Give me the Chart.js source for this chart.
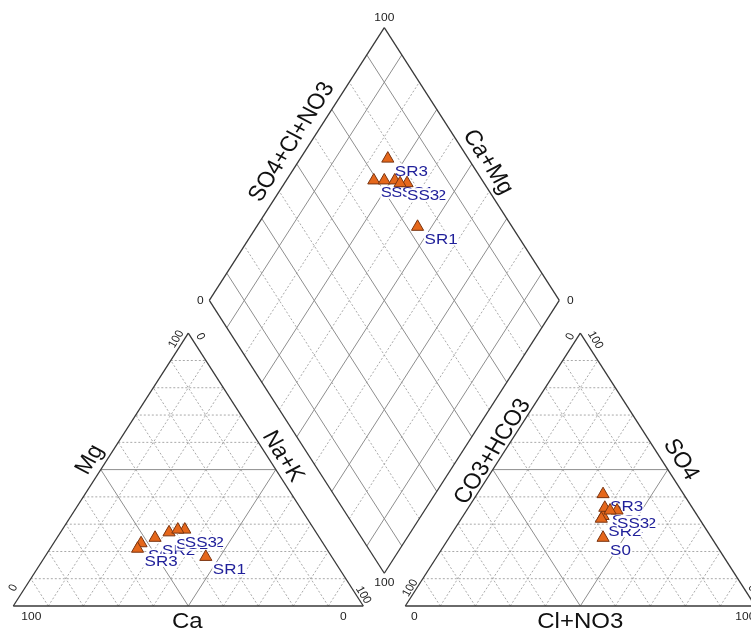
<!DOCTYPE html>
<html>
<head>
<meta charset="utf-8">
<title>Piper diagram</title>
<script src="https://cdn.jsdelivr.net/npm/chart.js@4.4.1/dist/chart.umd.min.js"></script>
<style>
  html, body { margin: 0; padding: 0; background: #ffffff; }
  canvas { display: block; }
</style>
</head>
<body>
<canvas id="piper" width="751" height="632"></canvas>
<script>
// ---- Sample composition, % of total meq/L ----
const samples = ["S0", "SR1", "SR2", "SR3", "SS1", "SS2", "SS3"];
const caPct   = [52, 36, 47, 54, 42, 37, 39];
const mgPct   = [23, 18, 25, 21, 27, 28, 28];
const naKPct  = [25, 46, 28, 25, 31, 35, 33];
const hco3Pct = [31, 27, 28, 23, 25, 22, 24];
const so4Pct  = [25, 33, 32, 41, 36, 35, 35];
const clPct   = [44, 40, 40, 36, 39, 43, 41];

// Axis names and the 0/100 end labels
const cationTitles = ["Ca", "Mg", "Na+K"];
const anionTitles  = ["Cl+NO3", "CO3+HCO3", "SO4"];
const diamondTitles = ["SO4+Cl+NO3", "Ca+Mg"];
const endTicks = ["0", "100"];
const gridSteps = [10, 20, 30, 40, 50, 60, 70, 80, 90];

// ---- Piper geometry (unit triangle side) ----
const H = Math.sqrt(3) / 2;
const GAP = 0.12;                 // gap between the two lower triangles
const AX = 1 + GAP;               // left corner of the anion triangle
const DB = { x: 1 + GAP / 2, y: GAP / 2 * Math.sqrt(3) }; // bottom corner of the diamond

function cationXY(ca, mg, nak) {
  const t = ca + mg + nak, m = mg / t, n = nak / t;
  return { x: n + m / 2, y: m * H };
}
function anionXY(co3, so4, cl) {
  const t = co3 + so4 + cl, s = so4 / t, c = cl / t;
  return { x: AX + c + s / 2, y: s * H };
}
// p = Ca+Mg fraction, q = SO4+Cl fraction
function diamondXY(p, q) {
  return { x: DB.x + 0.5 * (q - p), y: DB.y + H * (p + q) };
}

// ---- Page layout: pixel placement of the plot ----
const CW = 751, CH = 632;
const ORIGIN = { x: 13.3, y: 606 };   // Ca = 100 corner
const SIDE_PX = 350;
const RISE_PX = 315;
const SQUASH = 0.904;                 // vertical compression of the drawing
const xRange = { min: -ORIGIN.x / SIDE_PX, max: (CW - ORIGIN.x) / SIDE_PX };
const yRange = { min: (ORIGIN.y - CH) / RISE_PX, max: ORIGIN.y / RISE_PX };

const LINE_STYLES = {
  edge:  { color: '#383838', width: 1.3, dash: [],     order: 1 },
  major: { color: '#8e8e8e', width: 1.0, dash: [],     order: 2 },
  minor: { color: '#a0a0a0', width: 0.9, dash: [2, 2], order: 3 }
};

const datasets = [];

// Sample markers (first dataset, drawn on top)
const markerPts = [];
samples.forEach((s, i) => markerPts.push(Object.assign(cationXY(caPct[i], mgPct[i], naKPct[i]), { label: s })));
samples.forEach((s, i) => markerPts.push(Object.assign(anionXY(hco3Pct[i], so4Pct[i], clPct[i]), { label: s })));
samples.forEach((s, i) => {
  const p = (caPct[i] + mgPct[i]) / (caPct[i] + mgPct[i] + naKPct[i]);
  const q = (so4Pct[i] + clPct[i]) / (so4Pct[i] + clPct[i] + hco3Pct[i]);
  markerPts.push(Object.assign(diamondXY(p, q), { label: s }));
});
datasets.push({
  data: markerPts,
  pointStyle: 'triangle',
  pointRadius: 7,
  pointHoverRadius: 7,
  backgroundColor: '#e5671b',
  borderColor: '#7a3410',
  borderWidth: 1,
  order: 0,
  clip: false
});

function addLine(a, b, kind) {
  const st = LINE_STYLES[kind];
  datasets.push({
    data: [a, b],
    showLine: true,
    borderColor: st.color,
    borderWidth: st.width,
    borderDash: st.dash,
    pointRadius: 0,
    pointHoverRadius: 0,
    fill: false,
    order: st.order,
    clip: false
  });
}

// Triangle grids: 10 % steps, the 50 % lines solid
function triangleGrid(ox) {
  gridSteps.forEach(v => {
    const f = v / 100, kind = v === 50 ? 'major' : 'minor';
    addLine({ x: ox + f / 2, y: f * H }, { x: ox + 1 - f / 2, y: f * H }, kind);
    addLine({ x: ox + 1 - f, y: 0 }, { x: ox + (1 - f) / 2, y: (1 - f) * H }, kind);
    addLine({ x: ox + f, y: 0 }, { x: ox + (1 + f) / 2, y: (1 - f) * H }, kind);
  });
  addLine({ x: ox, y: 0 }, { x: ox + 1, y: 0 }, 'edge');
  addLine({ x: ox + 1, y: 0 }, { x: ox + 0.5, y: H }, 'edge');
  addLine({ x: ox + 0.5, y: H }, { x: ox, y: 0 }, 'edge');
}
triangleGrid(0);
triangleGrid(AX);

// Diamond grid: 10 % steps, odd tens solid
gridSteps.forEach(v => {
  const f = v / 100, kind = (v / 10) % 2 === 1 ? 'major' : 'minor';
  addLine(diamondXY(f, 0), diamondXY(f, 1), kind);
  addLine(diamondXY(0, f), diamondXY(1, f), kind);
});
addLine(diamondXY(0, 0), diamondXY(1, 0), 'edge');
addLine(diamondXY(1, 0), diamondXY(1, 1), 'edge');
addLine(diamondXY(1, 1), diamondXY(0, 1), 'edge');
addLine(diamondXY(0, 1), diamondXY(0, 0), 'edge');

// ---- text helpers ----
const FONT = '"Liberation Sans", Arial, Helvetica, sans-serif';
function drawText(ctx, txt, x, y, size, color, angle, align, baseline) {
  ctx.save();
  ctx.translate(x, y);
  ctx.scale(1, SQUASH);
  ctx.rotate((angle || 0) * Math.PI / 180);
  ctx.font = size + 'px ' + FONT;
  ctx.fillStyle = color;
  ctx.textAlign = align || 'center';
  ctx.textBaseline = baseline || 'middle';
  ctx.fillText(txt, 0, 0);
  ctx.restore();
}

// Sample names beside each marker, on a white box
const LABEL_SIZE = 17;
const sampleLabels = {
  id: 'sampleLabels',
  beforeDatasetDraw(chart, args) {
    if (args.index !== 0) return;
    const ctx = chart.ctx;
    const meta = chart.getDatasetMeta(0);
    ctx.save();
    ctx.font = LABEL_SIZE + 'px ' + FONT;
    meta.data.forEach((pt, i) => {
      const txt = markerPts[i].label;
      const lx = pt.x + 7, ly = pt.y + 17;
      const w = ctx.measureText(txt).width;
      ctx.save();
      ctx.translate(lx, ly);
      ctx.scale(1, SQUASH);
      ctx.fillStyle = '#ffffff';
      ctx.fillRect(-0.5, -13, w + 1, 14.5);
      ctx.font = LABEL_SIZE + 'px ' + FONT;
      ctx.fillStyle = '#20209a';
      ctx.textAlign = 'left';
      ctx.textBaseline = 'alphabetic';
      ctx.fillText(txt, 0, 0);
      ctx.restore();
    });
    ctx.restore();
  }
};

// Axis titles and the 0/100 corner values
const axisText = {
  id: 'axisText',
  afterDatasetsDraw(chart) {
    const ctx = chart.ctx;
    const sx = chart.scales.x, sy = chart.scales.y;
    const P = (pt) => ({ x: sx.getPixelForValue(pt.x), y: sy.getPixelForValue(pt.y) });
    const T = 24, t = 12, black = '#111111', dark = '#222222';

    // corners
    const A = P({ x: 0, y: 0 }), B = P({ x: 1, y: 0 }), C = P({ x: 0.5, y: H });
    const D = P({ x: AX, y: 0 }), E = P({ x: AX + 1, y: 0 }), F = P({ x: AX + 0.5, y: H });
    const dT = P(diamondXY(1, 1)), dL = P(diamondXY(1, 0)), dR = P(diamondXY(0, 1)), dB = P(diamondXY(0, 0));
    const mid = (a, b) => ({ x: (a.x + b.x) / 2, y: (a.y + b.y) / 2 });

    // cation triangle
    drawText(ctx, cationTitles[0], mid(A, B).x - 1, A.y + 22, T, black, 0, 'center', 'alphabetic');
    drawText(ctx, cationTitles[1], mid(A, C).x - 11, mid(A, C).y - 10, T, black, -60);
    drawText(ctx, cationTitles[2], mid(B, C).x + 7, mid(B, C).y - 13, T, black, 60);
    drawText(ctx, endTicks[1], A.x + 18, A.y + 13.5, t, dark, 0, 'center', 'alphabetic');
    drawText(ctx, endTicks[0], B.x - 20, B.y + 13.5, t, dark, 0, 'center', 'alphabetic');
    drawText(ctx, endTicks[0], A.x, A.y - 18, t, dark, -60);
    drawText(ctx, endTicks[1], C.x - 12, C.y + 6, t, dark, -60);
    drawText(ctx, endTicks[0], C.x + 12, C.y + 3.5, t, dark, 60);
    drawText(ctx, endTicks[1], B.x, B.y - 11, t, dark, 60);

    // anion triangle
    drawText(ctx, anionTitles[0], mid(D, E).x, D.y + 22, T, black, 0, 'center', 'alphabetic');
    drawText(ctx, anionTitles[1], mid(D, F).x, mid(D, F).y - 18, T, black, -60);
    drawText(ctx, anionTitles[2], mid(E, F).x + 13, mid(E, F).y - 10, T, black, 60);
    drawText(ctx, endTicks[0], D.x + 9, D.y + 13.5, t, dark, 0, 'center', 'alphabetic');
    drawText(ctx, endTicks[1], E.x - 10, E.y + 13.5, t, dark, 0, 'center', 'alphabetic');
    drawText(ctx, endTicks[1], D.x + 5, D.y - 18, t, dark, -60);
    drawText(ctx, endTicks[0], F.x - 10, F.y + 3.5, t, dark, -60);
    drawText(ctx, endTicks[1], F.x + 15, F.y + 7, t, dark, 60);
    drawText(ctx, endTicks[0], E.x - 3, E.y - 18, t, dark, 60);

    // diamond
    drawText(ctx, diamondTitles[0], mid(dL, dT).x - 5, mid(dL, dT).y - 22, T, black, -60);
    drawText(ctx, diamondTitles[1], mid(dT, dR).x + 16, mid(dT, dR).y - 2, T, black, 60);
    drawText(ctx, endTicks[1], dT.x, dT.y - 7, t, dark, 0, 'center', 'alphabetic');
    drawText(ctx, endTicks[0], dL.x - 9, dL.y + 1, t, dark, 0);
    drawText(ctx, endTicks[0], dR.x + 11, dR.y + 1, t, dark, 0);
    drawText(ctx, endTicks[1], dB.x, dB.y + 10, t, dark, 0);
  }
};

new Chart(document.getElementById('piper'), {
  type: 'scatter',
  data: { datasets: datasets },
  options: {
    responsive: false,
    maintainAspectRatio: false,
    devicePixelRatio: 1,
    animation: false,
    events: [],
    layout: { padding: 0, autoPadding: false },
    plugins: { legend: { display: false }, tooltip: { enabled: false } },
    scales: {
      x: { type: 'linear', display: false, min: xRange.min, max: xRange.max },
      y: { type: 'linear', display: false, min: yRange.min, max: yRange.max }
    }
  },
  plugins: [sampleLabels, axisText]
});
</script>
</body>
</html>
